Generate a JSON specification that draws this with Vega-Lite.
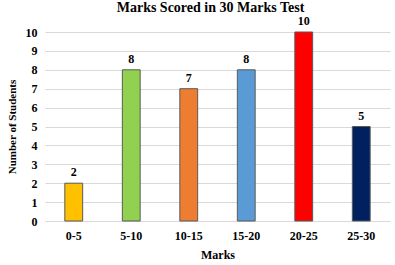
{
  "$schema": "https://vega.github.io/schema/vega-lite/v6.json",
  "width": 345,
  "height": 189,
  "autosize": {"type": "none"},
  "padding": {"left": 45, "top": 32, "right": 5, "bottom": 44},
  "background": "white",
  "config": {
    "view": {"stroke": null},
    "font": "Liberation Serif"
  },
  "title": {
    "text": "Marks Scored in 30 Marks Test",
    "font": "Liberation Serif",
    "fontSize": 14,
    "fontWeight": "bold",
    "color": "black",
    "anchor": "middle",
    "baseline": "bottom",
    "dx": -7,
    "offset": -14
  },
  "data": {
    "values": [
      {"range": "0-5", "count": 2, "color": "#FFC000"},
      {"range": "5-10", "count": 8, "color": "#92D050"},
      {"range": "10-15", "count": 7, "color": "#ED7D31"},
      {"range": "15-20", "count": 8, "color": "#5B9BD5"},
      {"range": "20-25", "count": 10, "color": "#FF0000"},
      {"range": "25-30", "count": 5, "color": "#002060"}
    ]
  },
  "encoding": {
    "x": {
      "field": "range",
      "type": "nominal",
      "sort": null,
      "scale": {"paddingInner": 0.69, "paddingOuter": 0.345},
      "axis": {
        "title": "Marks",
        "labelAngle": 0,
        "labelFont": "Liberation Serif",
        "labelFontSize": 12,
        "labelFontWeight": "bold",
        "labelColor": "black",
        "labelPadding": 9,
        "titleFont": "Liberation Serif",
        "titleFontSize": 12,
        "titleFontWeight": "bold",
        "titleColor": "black",
        "titlePadding": 8,
        "ticks": false,
        "domain": false,
        "grid": false
      }
    },
    "y": {
      "field": "count",
      "type": "quantitative",
      "scale": {"domain": [0, 10]},
      "axis": {
        "title": "Number of Students",
        "values": [0, 1, 2, 3, 4, 5, 6, 7, 8, 9, 10],
        "labelFont": "Liberation Serif",
        "labelFontSize": 12,
        "labelFontWeight": "bold",
        "labelColor": "black",
        "labelPadding": 8,
        "titleFont": "Liberation Serif",
        "titleFontSize": 11,
        "titleFontWeight": "bold",
        "titleColor": "black",
        "titlePadding": 8,
        "ticks": false,
        "domain": false,
        "gridColor": "#D9D9D9",
        "gridWidth": 1
      }
    }
  },
  "layer": [
    {
      "mark": {"type": "bar", "stroke": "#595959", "strokeWidth": 1},
      "encoding": {
        "color": {"field": "color", "type": "nominal", "scale": null}
      }
    },
    {
      "mark": {
        "type": "text",
        "dy": -11,
        "font": "Liberation Serif",
        "fontSize": 12,
        "fontWeight": "bold",
        "color": "black"
      },
      "encoding": {
        "text": {"field": "count", "type": "quantitative"}
      }
    }
  ]
}
